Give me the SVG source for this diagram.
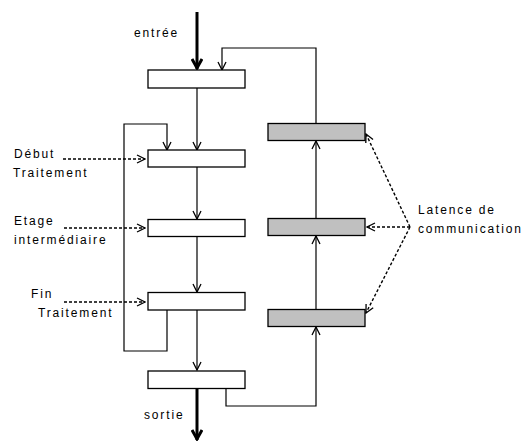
<svg xmlns="http://www.w3.org/2000/svg" width="527" height="446" viewBox="0 0 527 446">
<style>
.box{fill:#fff;stroke:#000;stroke-width:1.3}
.grey{fill:#c0c0c0;stroke:#000;stroke-width:1.3}
.ln{fill:none;stroke:#000;stroke-width:1.2}
.thick{fill:none;stroke:#000;stroke-width:3}
.dash{fill:none;stroke:#000;stroke-width:1.4;stroke-dasharray:3 2}
text{font-family:"Liberation Sans",Arial,sans-serif;font-size:12px;letter-spacing:1.85px;fill:#000}
</style>
<defs>
<marker id="a" viewBox="0 0 10 10" refX="9" refY="5" markerWidth="10" markerHeight="10" markerUnits="userSpaceOnUse" orient="auto">
<polyline points="1,1 9,5 1,9" fill="none" stroke="#000" stroke-width="1.3"/>
</marker>
<marker id="t" viewBox="0 0 12 12" refX="11" refY="6" markerWidth="12" markerHeight="12" markerUnits="userSpaceOnUse" orient="auto">
<polyline points="1,1 10,6 1,11" fill="none" stroke="#000" stroke-width="3"/>
</marker>
</defs>
<g id="connectors">
<line class="thick" x1="197" y1="12" x2="197" y2="69" marker-end="url(#t)"/>
<line class="thick" x1="197" y1="389" x2="197" y2="440" marker-end="url(#t)"/>
<line class="ln" x1="197" y1="88" x2="197" y2="150" marker-end="url(#a)"/>
<line class="ln" x1="197" y1="167" x2="197" y2="219" marker-end="url(#a)"/>
<line class="ln" x1="197" y1="237" x2="197" y2="292" marker-end="url(#a)"/>
<line class="ln" x1="197" y1="310" x2="197" y2="370" marker-end="url(#a)"/>
<polyline class="ln" points="167,310 167,351 124,351 124,124 167,124 167,150" marker-end="url(#a)"/>
<polyline class="ln" points="226,389 226,406 316,406 316,327" marker-end="url(#a)"/>
<line class="ln" x1="316" y1="309" x2="316" y2="236" marker-end="url(#a)"/>
<line class="ln" x1="316" y1="218" x2="316" y2="141" marker-end="url(#a)"/>
<polyline class="ln" points="316,123 316,48 222,48 222,70" marker-end="url(#a)"/>
<line class="dash" x1="63" y1="159" x2="145" y2="159" marker-end="url(#a)"/>
<line class="dash" x1="64" y1="228" x2="145" y2="228" marker-end="url(#a)"/>
<line class="dash" x1="64" y1="302" x2="145" y2="302" marker-end="url(#a)"/>
<line class="dash" x1="410" y1="227" x2="366" y2="134" marker-end="url(#a)"/>
<line class="dash" x1="410" y1="227" x2="367" y2="227" marker-end="url(#a)"/>
<line class="dash" x1="410" y1="227" x2="366" y2="313" marker-end="url(#a)"/>
</g>
<g id="entree"><text x="134" y="37">entrée</text></g>
<g id="stage0"><rect class="box" x="148" y="70" width="97" height="18"/></g>
<g id="debut"><rect class="box" x="148" y="150" width="97" height="17"/><text x="14" y="158">Début</text><text x="13" y="177">Traitement</text></g>
<g id="etage"><rect class="box" x="148" y="219.5" width="97" height="17"/><text x="14" y="225">Etage</text><text x="14" y="244">intermédiaire</text></g>
<g id="fin"><rect class="box" x="148" y="292.5" width="97" height="17.5"/><text x="31" y="298">Fin</text><text x="38" y="317">Traitement</text></g>
<g id="stage5"><rect class="box" x="148" y="371" width="97" height="17.5"/><text x="144" y="419">sortie</text></g>
<g id="lat1"><rect class="grey" x="268" y="123.5" width="97" height="17"/></g>
<g id="lat2"><rect class="grey" x="268" y="218.5" width="97" height="17"/></g>
<g id="lat3"><rect class="grey" x="268" y="309.5" width="97" height="17"/></g>
<g id="latence"><text x="418" y="214">Latence de</text><text x="418" y="233">communication</text></g>
</svg>
